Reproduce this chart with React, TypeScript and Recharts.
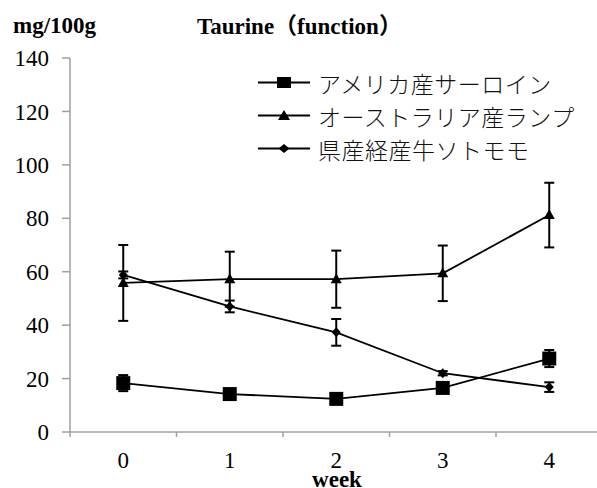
import { ErrorBar, Legend, Line, LineChart, XAxis, YAxis } from "recharts"

const weeks = [0, 1, 2, 3, 4]
const bandEdges = [-0.5, 0.5, 1.5, 2.5, 3.5, 4.5]
const yTicks = [0, 20, 40, 60, 80, 100, 120, 140]

const seriesNames = ["アメリカ産サーロイン", "オーストラリア産ランプ", "県産経産牛ソトモモ"]

const usSirloin = [18.3, 14.2, 12.4, 16.5, 27.5]
const usSirloinErr = [3, 1, 1, 1, 3.2]
const auRump = [55.8, 57.2, 57.2, 59.4, 81.2]
const auRumpErr = [14.2, 10.3, 10.7, 10.4, 12.1]
const kenSotomomo = [58.8, 47, 37.3, 22, 16.8]
const kenSotomomoErr = [1.3, 2.2, 5, 0.8, 1.8]

const data = weeks.map((week, i) => ({
  week,
  us: usSirloin[i],
  usErr: usSirloinErr[i],
  au: auRump[i],
  auErr: auRumpErr[i],
  ken: kenSotomomo[i],
  kenErr: kenSotomomoErr[i],
}))

const axisGray = "#a0a0a0"
const serif = "'Liberation Serif', 'Noto Sans CJK JP', serif"

const SquareDot = (props: any) => (
  <rect key={`sq-${props.index}`} x={props.cx - 7} y={props.cy - 7} width={14} height={14} fill="#000" />
)

const TriangleDot = (props: any) => {
  const { cx, cy } = props
  return <polygon key={`tr-${props.index}`} points={`${cx},${cy - 6} ${cx + 5.5},${cy + 4} ${cx - 5.5},${cy + 4}`} fill="#000" />
}

const DiamondDot = (props: any) => {
  const { cx, cy } = props
  return <polygon key={`di-${props.index}`} points={`${cx},${cy - 5} ${cx + 4.5},${cy} ${cx},${cy + 5} ${cx - 4.5},${cy}`} fill="#000" />
}

const legendMarkers = [
  <rect x={19} y={3} width={14} height={11} fill="#000" />,
  <polygon points="26,3 32,13 20,13" fill="#000" />,
  <polygon points="26,4 31.5,8.5 26,13 20.5,8.5" fill="#000" />,
]

function LegendBox() {
  return (
    <div style={{ fontFamily: "'Noto Sans CJK JP', sans-serif", fontWeight: 300, fontSize: 23, color: "#111" }}>
      {seriesNames.map((name, i) => (
        <div key={name} style={{ display: "flex", alignItems: "center", height: 33 }}>
          <svg width={52} height={17} style={{ flex: "none" }}>
            <line x1={0} y1={8.5} x2={52} y2={8.5} stroke="#000" strokeWidth={2} />
            {legendMarkers[i]}
          </svg>
          <span style={{ marginLeft: 8, letterSpacing: 0.5, whiteSpace: "nowrap" }}>{name}</span>
        </div>
      ))}
    </div>
  )
}

export default function App() {
  return (
    <div style={{ position: "absolute", left: 0, top: 0, width: 597, height: 488, overflow: "hidden", background: "#fff" }}>
      <div style={{ position: "absolute", left: 13, top: 14, fontFamily: serif, fontWeight: "bold", fontSize: 23, lineHeight: "23px" }}>
        mg/100g
      </div>
      <div style={{ position: "absolute", left: 197, top: 15, fontFamily: serif, fontWeight: "bold", fontSize: 23, lineHeight: "23px", whiteSpace: "nowrap" }}>
        Taurine（function）
      </div>
      <LineChart width={610} height={488} data={data} margin={{ top: 58, right: 7.5, left: 0, bottom: 0 }}>
        <XAxis
          xAxisId="edges"
          type="number"
          dataKey="week"
          domain={[-0.5, 4.5]}
          ticks={bandEdges}
          interval={0}
          height={1}
          axisLine={{ stroke: axisGray, strokeWidth: 1.5 }}
          tickLine={{ stroke: axisGray, strokeWidth: 1.5 }}
          tickSize={5}
          tickFormatter={() => ""}
        />
        <XAxis
          xAxisId="weeks"
          type="number"
          dataKey="week"
          domain={[-0.5, 4.5]}
          ticks={weeks}
          interval={0}
          height={55}
          axisLine={false}
          tickLine={false}
          tickSize={0}
          tickMargin={19}
          tick={{ fill: "#000", fontSize: 23, fontFamily: serif }}
        />
        <YAxis
          type="number"
          domain={[0, 140]}
          ticks={yTicks}
          interval={0}
          width={70}
          axisLine={{ stroke: axisGray, strokeWidth: 1.5 }}
          tickLine={{ stroke: axisGray, strokeWidth: 1.5 }}
          tickSize={8}
          tickMargin={13}
          tick={{ fill: "#000", fontSize: 23, fontFamily: serif }}
        />
        <Legend
          layout="horizontal"
          verticalAlign="middle"
          content={() => <LegendBox />}
          wrapperStyle={{ top: 66, left: 258, width: 340 }}
        />
        <Line xAxisId="weeks" dataKey="us" name={seriesNames[0]} stroke="#000" strokeWidth={1.8} dot={SquareDot} isAnimationActive={false}>
          <ErrorBar dataKey="usErr" width={5} stroke="#000" strokeWidth={2} direction="y" />
        </Line>
        <Line xAxisId="weeks" dataKey="au" name={seriesNames[1]} stroke="#000" strokeWidth={1.8} dot={TriangleDot} isAnimationActive={false}>
          <ErrorBar dataKey="auErr" width={5} stroke="#000" strokeWidth={2} direction="y" />
        </Line>
        <Line xAxisId="weeks" dataKey="ken" name={seriesNames[2]} stroke="#000" strokeWidth={1.8} dot={DiamondDot} isAnimationActive={false}>
          <ErrorBar dataKey="kenErr" width={5} stroke="#000" strokeWidth={2} direction="y" />
        </Line>
      </LineChart>
      <div style={{ position: "absolute", left: 337, top: 468, transform: "translateX(-50%)", fontFamily: serif, fontWeight: "bold", fontSize: 23, lineHeight: "23px" }}>
        week
      </div>
    </div>
  )
}
